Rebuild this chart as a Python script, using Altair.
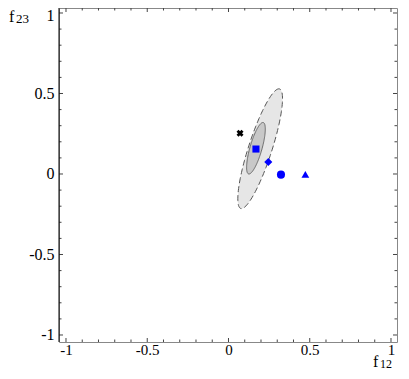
import altair as alt
import pandas as pd
import numpy as np

# ---- data ----
major_ticks = [-1, -0.5, 0, 0.5, 1]
minor_ticks = [-0.9, -0.8, -0.7, -0.6, -0.4, -0.3, -0.2, -0.1,
               0.1, 0.2, 0.3, 0.4, 0.6, 0.7, 0.8, 0.9]

# confidence ellipses: outer (dashed) and inner
ell_name = ["outer", "inner"]
ell_cx = [0.195, 0.169]
ell_cy = [0.157, 0.160]
ell_a = [0.390, 0.166]
ell_b = [0.072, 0.037]
ell_theta = [72.2, 74.2]
ell_fill = ["#e6e6e6", "#c8c8c8"]
ell_stroke = ["#555555", "#666666"]
ell_dash = [[6, 3], [1, 0]]

# markers
pt_x = [0.071, 0.169, 0.245, 0.323, 0.473]
pt_y = [0.253, 0.155, 0.074, -0.004, -0.002]
pt_shape = ["cross", "square", "diamond", "circle", "triangle-up"]
pt_color = ["black", "blue", "blue", "blue", "blue"]
pt_angle = [45, 0, 0, 0, 0]
pt_size = [50, 50, 65, 65, 60]

# ---- layout ----
W, H = 338, 334
XDOM = [-1.043, 1.037]
YDOM = [-1.0435, 1.031]
xs = alt.Scale(domain=XDOM, nice=False, zero=False)
ys = alt.Scale(domain=YDOM, nice=False, zero=False)
FONT = "Liberation Serif"

LBL = "datum.value < 0 ? '-' + format(-datum.value, '') : format(datum.value, '')"
xaxis = alt.Axis(values=major_ticks, ticks=False, domain=False, grid=False, title=None,
                 labelExpr=LBL, labelFont=FONT, labelFontSize=15, labelColor="black",
                 labelPadding=0)
yaxis = alt.Axis(values=major_ticks, ticks=False, domain=False, grid=False, title=None,
                 labelExpr=LBL, labelFont=FONT, labelFontSize=16, labelColor="black",
                 labelPadding=5,
                 labelOffset={"condition": {"test": "datum.value == 1", "value": 3},
                              "value": 0})

layers = []

# ellipses
for i in range(len(ell_name)):
    t = np.radians(np.arange(0, 361, 3))
    th = np.radians(ell_theta[i])
    ex = ell_cx[i] + ell_a[i] * np.cos(th) * np.cos(t) - ell_b[i] * np.sin(th) * np.sin(t)
    ey = ell_cy[i] + ell_a[i] * np.sin(th) * np.cos(t) + ell_b[i] * np.cos(th) * np.sin(t)
    df = pd.DataFrame({"x": ex, "y": ey, "o": np.arange(len(t))})
    layers.append(
        alt.Chart(df).mark_line(fill=ell_fill[i], stroke=ell_stroke[i],
                                strokeWidth=1, strokeDash=ell_dash[i])
        .encode(x=alt.X("x:Q", scale=xs, axis=xaxis),
                y=alt.Y("y:Q", scale=ys, axis=yaxis), order="o:Q")
    )

# markers
pts = pd.DataFrame({"x": pt_x, "y": pt_y})
for i in range(len(pt_x)):
    layers.append(
        alt.Chart(pts.iloc[[i]]).mark_point(
            shape=pt_shape[i], filled=True, color=pt_color[i], opacity=1,
            size=pt_size[i], angle=pt_angle[i])
        .encode(x=alt.X("x:Q", scale=xs, axis=xaxis), y=alt.Y("y:Q", scale=ys, axis=yaxis))
    )

# tick marks (inward, on all four sides)
tick_col = "#444444"
for vals, ln in [(major_ticks, 4), (minor_ticks, 2.5)]:
    tdf = pd.DataFrame({"x": vals, "y": vals})
    layers.append(alt.Chart(tdf).mark_rule(color=tick_col, strokeWidth=1).encode(
        x=alt.X("x:Q", scale=xs, axis=xaxis), y=alt.value(H), y2=alt.value(H - ln)))
    layers.append(alt.Chart(tdf).mark_rule(color=tick_col, strokeWidth=1).encode(
        x=alt.X("x:Q", scale=xs, axis=xaxis), y=alt.value(0), y2=alt.value(ln)))
    layers.append(alt.Chart(tdf).mark_rule(color=tick_col, strokeWidth=1).encode(
        y=alt.Y("y:Q", scale=ys, axis=yaxis), x=alt.value(0), x2=alt.value(ln)))
    layers.append(alt.Chart(tdf).mark_rule(color=tick_col, strokeWidth=1).encode(
        y=alt.Y("y:Q", scale=ys, axis=yaxis), x=alt.value(W), x2=alt.value(W - ln)))

# black left axis line
layers.append(alt.Chart(pd.DataFrame({"a": [0]})).mark_rule(color="black", strokeWidth=1).encode(
    x=alt.value(0), y=alt.value(0), y2=alt.value(H)))

# axis titles f12 / f23 with subscripts
titles = [("f", -50, 14, 16), ("23", -43, 15, 13),
          ("f", 314, 359, 16), ("12", 321, 360, 12)]
for txt, tx, ty, fs in titles:
    layers.append(alt.Chart(pd.DataFrame({"a": [0]})).mark_text(
        text=txt, font=FONT, fontSize=fs, color="black", align="left",
        baseline="alphabetic").encode(x=alt.value(tx), y=alt.value(ty)))

chart = alt.layer(*layers).properties(
    width=W, height=H,
    autosize=alt.AutoSizeParams(type="none"),
    padding={"left": 51, "top": 0, "right": 4, "bottom": 29},
).configure_view(stroke="#888888", strokeWidth=1)

chart.save("out.html", embed_options={"renderer": "svg", "actions": False})
